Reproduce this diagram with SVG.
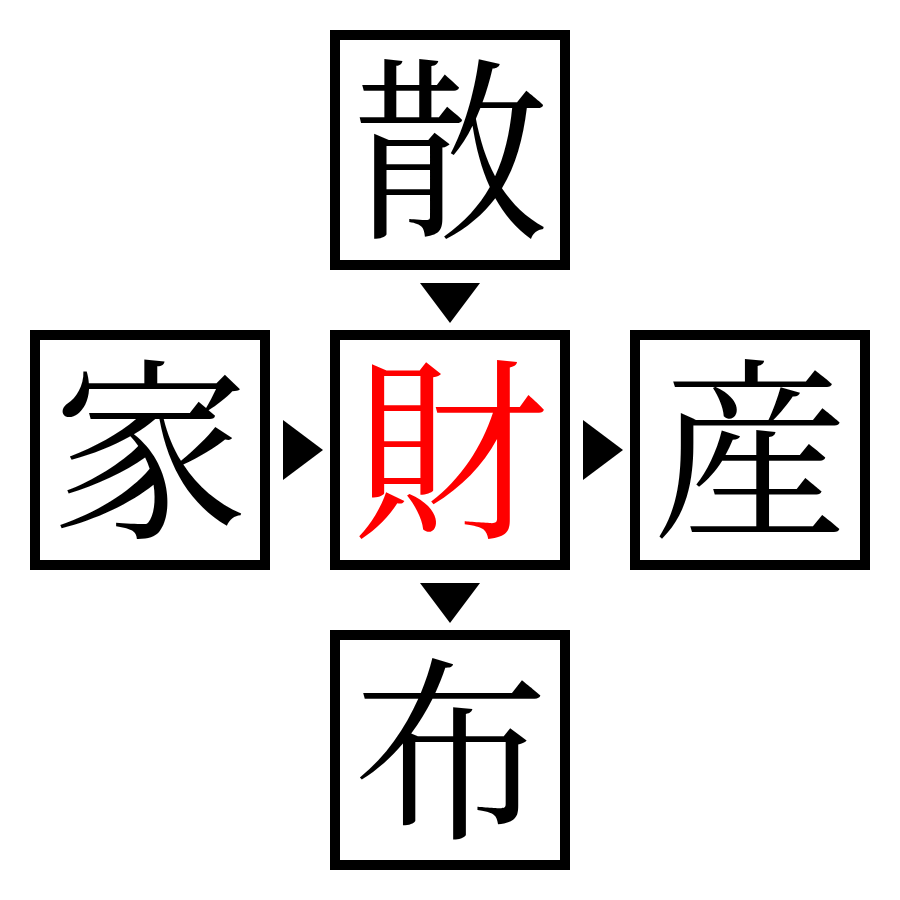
<svg xmlns="http://www.w3.org/2000/svg" width="900" height="900" viewBox="0 0 900 900">
<style>
.box{fill:#fff;stroke:#000;stroke-width:10}
.ch{font-family:"Noto Serif CJK JP","Noto Sans CJK JP",serif;font-size:196px;text-anchor:middle}
.arr{fill:#000}
</style>
<rect width="900" height="900" fill="#fff"/>
<g id="n-top"><rect class="box" x="335" y="35" width="230" height="230"/><text class="ch" x="451" y="223">散</text></g>
<g id="n-left"><rect class="box" x="35" y="335" width="230" height="230"/><text class="ch" x="151" y="523">家</text></g>
<g id="n-center"><rect class="box" x="335" y="335" width="230" height="230"/><text class="ch" x="451" y="523" fill="#ff0000">財</text></g>
<g id="n-right"><rect class="box" x="635" y="335" width="230" height="230"/><text class="ch" x="751" y="523">産</text></g>
<g id="n-bottom"><rect class="box" x="335" y="635" width="230" height="230"/><text class="ch" x="451" y="823">布</text></g>
<g id="connectors">
<polygon class="arr" points="420,283 480,283 450,323"/>
<polygon class="arr" points="283,420 323,450 283,480"/>
<polygon class="arr" points="583,420 623,450 583,480"/>
<polygon class="arr" points="420,583 480,583 450,623"/>
</g>
</svg>
